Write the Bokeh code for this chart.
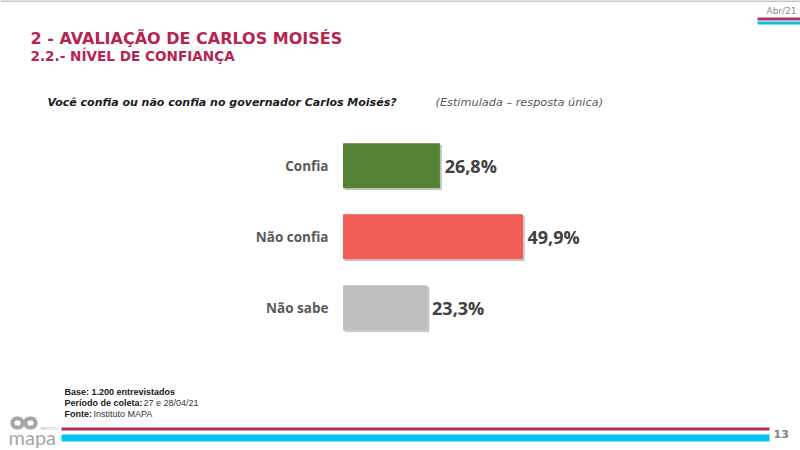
from bokeh.core.properties import value as fixed
from bokeh.embed import file_html
from bokeh.models import BoxAnnotation, ColumnDataSource, FixedTicker, Label, LabelSet, LinearAxis, Range1d
from bokeh.plotting import figure
from bokeh.resources import INLINE
from bokeh.transform import dodge

categories = ['Confia', 'Não confia', 'Não sabe']
positions = [3, 2, 1]
values = [26.8, 49.9, 23.3]
value_labels = ['26,8%', '49,9%', '23,3%']
colors = ['#548235', '#f05c56', '#bfbfbf']

W, H = 800, 450
LEFT = 343
PX_X = 3.587  # px per percentage point
PX_Y = 71  # px between bars

source = ColumnDataSource(dict(y=positions, value=values, label=value_labels, color=colors))

p = figure(
    width=W, height=H,
    output_backend='svg', toolbar_location=None,
    x_range=Range1d(-LEFT / PX_X, (W - LEFT) / PX_X),
    y_range=Range1d(2 - (H - 236.3) / PX_Y, 2 + 236.3 / PX_Y),
    x_axis_location=None, y_axis_location=None,
    min_border=0, outline_line_color=None,
)
p.grid.visible = False

axis = LinearAxis(
    fixed_location=0,
    ticker=FixedTicker(ticks=positions),
    major_label_overrides=dict(zip(positions, categories)),
    axis_line_color=None, major_tick_line_color=None, minor_tick_line_color=None,
    major_label_standoff=9,
    major_label_text_font='Open Sans', major_label_text_font_style='bold',
    major_label_text_font_size='13.5px', major_label_text_color='#595959',
)
p.add_layout(axis, 'left')

# soft shadow under the bars
p.hbar(y=dodge('y', -0.025, range=p.y_range), left=0.5, right=dodge('value', 0.5, range=p.x_range),
       height=0.62, source=source, color='#7f7f7f', alpha=0.35)
p.hbar(y='y', left=0, right='value', height=0.62, source=source, color='color')

p.add_layout(LabelSet(
    x='value', y='y', text='label', source=source, x_offset=5, y_offset=0,
    text_font=fixed('Open Sans'), text_font_style='bold', text_font_size='18px',
    text_color='#404040', text_align='left', text_baseline='middle',
))


def text(x, y, s, size, color, font='DejaVu Sans', style='bold', align='left'):
    p.add_layout(Label(
        x=x, y=H - y, x_units='screen', y_units='screen', text=s,
        text_font=font, text_font_style=style, text_font_size=size, text_color=color,
        text_align=align, text_baseline='alphabetic',
    ))


def box(x0, x1, y0, y1, color, radius=0):
    p.add_layout(BoxAnnotation(
        left=x0, right=x1, top=H - y0, bottom=H - y1,
        left_units='screen', right_units='screen', top_units='screen', bottom_units='screen',
        fill_color=color, fill_alpha=1, line_color=None, border_radius=radius,
    ))


crimson = '#b5254f'
text(30, 38, '2 - AVALIAÇÃO DE CARLOS MOISÉS', '16px', crimson)
text(30, 55, '2.2.- NÍVEL DE CONFIANÇA', '13.6px', crimson)
text(47, 102, 'Você confia ou não confia no governador Carlos Moisés?', '11px', '#1a1a1a', style='bold italic')
text(435, 102, '(Estimulada – resposta única)', '11.3px', '#595959', style='italic')
text(766, 10, 'Abr/21', '9px', '#8c8c8c', style='normal')
text(773, 433, '13', '11px', '#7f7f7f')

text(64, 391, 'Base: 1.200 entrevistados', '9px', '#1a1a1a', font='Liberation Sans')
text(64, 402, 'Período de coleta:', '9px', '#1a1a1a', font='Liberation Sans')
text(143, 402, '27 e 28/04/21', '9px', '#333333', font='Liberation Sans', style='normal')
text(64, 413, 'Fonte:', '9px', '#1a1a1a', font='Liberation Sans')
text(93, 413, 'Instituto MAPA', '9px', '#333333', font='Liberation Sans', style='normal')

box(0, 800, 0, 1, '#8c8c8c')
box(757, 800, 17, 20, '#b5345c')
box(757, 800, 21, 24, '#00c4e8')
box(61, 769, 427, 430, '#b0304f')
box(61, 769, 434, 441, '#00c4ea')

# logo
box(10, 24, 416, 429, '#a6a6a6', 6)
box(23, 37, 416, 429, '#a6a6a6', 6)
box(14, 20, 420, 425, '#ffffff', 2)
box(27, 33, 420, 425, '#ffffff', 2)
text(8, 436, 'mapa', '20px', '#a6a6a6', font='Lato', style='normal')
text(40, 428, 'INSTITUTO', '3.5px', '#a6a6a6', font='Liberation Sans', style='normal')

open('out.html', 'w').write(file_html(p, INLINE))
